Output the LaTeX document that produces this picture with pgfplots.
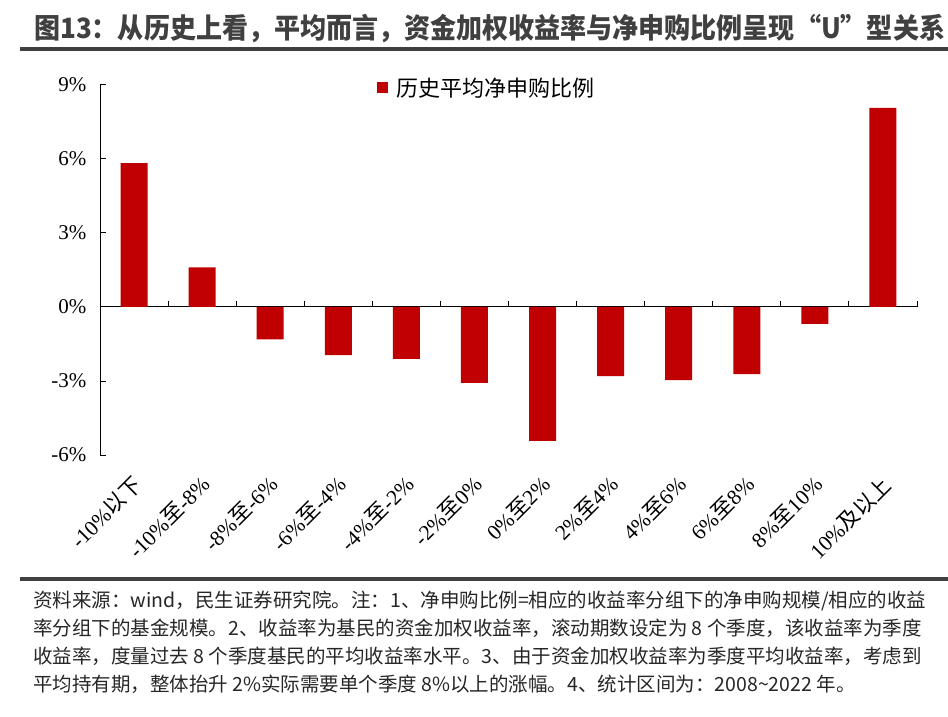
\documentclass[border=0pt]{standalone}
\usepackage{pgfplots}
\pgfplotsset{compat=1.18}
\usepackage{graphicx}
\usepackage{fontspec}
\setmainfont{Liberation Serif}
\newfontfamily\cjk{Noto Sans CJK SC}
\definecolor{barred}{HTML}{C00000}
\definecolor{darkgray}{HTML}{404040}

\begin{document}
\begin{tikzpicture}[x=1pt,y=1pt]
\path[use as bounding box] (0,0) rectangle (948,716);

% title and rules
\node[anchor=base west, inner sep=0pt, text=darkgray, font=\cjk\bfseries\fontsize{28}{30}\selectfont] at (34,677)
  {\scalebox{0.93}[1]{图13：从历史上看，平均而言，资金加权收益率与净申购比例呈现“U”型关系}};
\draw[darkgray, line width=3.5pt] (20,667) -- (948,667);
\draw[darkgray, line width=3.5pt] (20,137) -- (948,137);

\begin{axis}[
  at={(100pt,261pt)}, anchor=south west,
  scale only axis, width=817pt, height=370pt,
  xmin=0.5, xmax=12.5, ymin=-6, ymax=9,
  axis y line=left, axis x line=middle,
  axis line style={black, line width=1pt, -},
  tick align=inside,
  ytick={-6,-3,0,3,6,9},
  yticklabels={-6\%,-3\%,0\%,3\%,6\%,9\%},
  yticklabel style={font=\fontsize{21}{24}\selectfont, xshift=-10pt},
  ytick style={black, line width=1pt},
  major tick length=6pt,
  xtick={1,...,12},
  x tick style={draw=none},
  minor xtick={1.5,2.5,...,12.5},
  minor x tick style={draw=black, line width=1pt},
  minor tick length=6pt,
  xticklabels={
    -10\%{\cjk 以下},
    -10\%{\cjk 至}-8\%,
    -8\%{\cjk 至}-6\%,
    -6\%{\cjk 至}-4\%,
    -4\%{\cjk 至}-2\%,
    -2\%{\cjk 至}0\%,
    0\%{\cjk 至}2\%,
    2\%{\cjk 至}4\%,
    4\%{\cjk 至}6\%,
    6\%{\cjk 至}8\%,
    8\%{\cjk 至}10\%,
    10\%{\cjk 及以上}},
  xticklabel style={font=\fontsize{21.5}{24}\selectfont, yshift=-167pt, xshift=-3pt, rotate=45, anchor=north east, inner sep=0pt},
  legend style={at={(0.339,0.992)}, anchor=west, draw=none, fill=none, inner sep=0pt,
    font=\cjk\fontsize{22}{24}\selectfont},
  legend image code/.code={\fill[barred] (0pt,-5.5pt) rectangle (11pt,5.5pt);},
  /tikz/every odd column/.append style={column sep=6pt},
  clip=false,
]
\addplot[ybar, bar width=27pt, fill=barred, draw=none]
  coordinates {(1,5.83)(2,1.61)(3,-1.31)(4,-1.95)(5,-2.10)(6,-3.08)(7,-5.43)(8,-2.80)(9,-2.96)(10,-2.72)(11,-0.68)(12,8.07)};
\addlegendentry{历史平均净申购比例}
\end{axis}

% notes
\begin{scope}[every node/.style={anchor=base west, inner sep=0pt, text=black!85, font=\cjk\fontsize{19.5}{24}\selectfont}]
\node at (33,109) {资料来源：wind，民生证券研究院。注：1、净申购比例=相应的收益率分组下的净申购规模/相应的收益};
\node at (33,81) {率分组下的基金规模。2、收益率为基民的资金加权收益率，滚动期数设定为 8 个季度，该收益率为季度};
\node at (33,53) {收益率，度量过去 8 个季度基民的平均收益率水平。3、由于资金加权收益率为季度平均收益率，考虑到};
\node at (33,25) {平均持有期，整体抬升 2\%实际需要单个季度 8\%以上的涨幅。4、统计区间为：2008\textasciitilde2022 年。};
\end{scope}
\end{tikzpicture}
\end{document}
